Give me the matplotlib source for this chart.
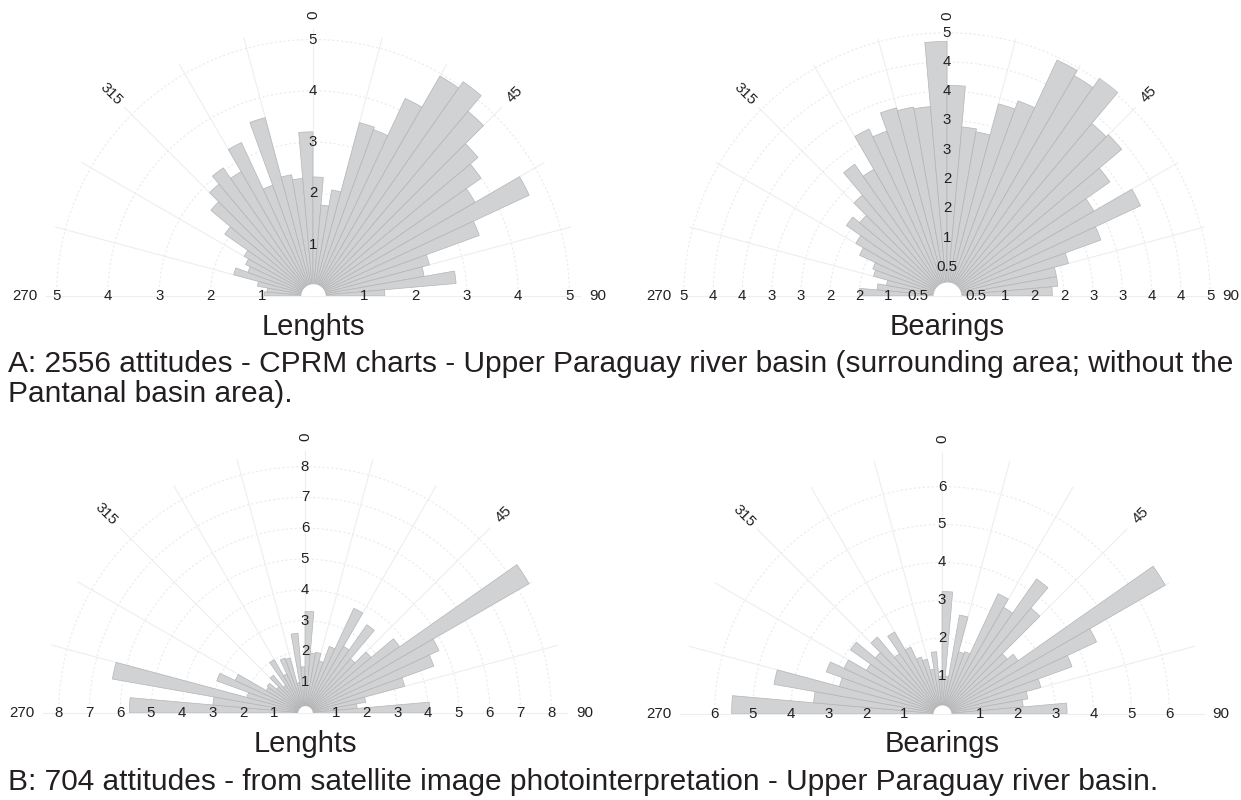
import numpy as np
import matplotlib
matplotlib.use("Agg")
import matplotlib.pyplot as plt

W, H, DPI = 1241, 800, 100

# 5-degree bins from 270 (=-90) through 0 to 90
bin_centers_deg = [-87.5, -82.5, -77.5, -72.5, -67.5, -62.5, -57.5, -52.5, -47.5,
                   -42.5, -37.5, -32.5, -27.5, -22.5, -17.5, -12.5, -7.5, -2.5,
                   2.5, 7.5, 12.5, 17.5, 22.5, 27.5, 32.5, 37.5, 42.5,
                   47.5, 52.5, 57.5, 62.5, 67.5, 72.5, 77.5, 82.5, 87.5]

# A - Lengths (CPRM charts)
a_lengths = [0.95, 0.9, 1.1, 1.6, 1.35, 1.45, 1.55, 2.1, 2.6,
             2.85, 3.05, 2.8, 3.3, 2.3, 3.6, 2.4, 2.3, 3.2,
             2.32, 1.78, 2.1, 3.5, 3.45, 4.25, 4.95, 5.1, 4.7,
             4.2, 4.0, 3.65, 4.65, 3.45, 2.35, 2.2, 2.8, 1.4]
# A - Bearings
a_bearings = [1.5, 1.2, 1.05, 1.3, 1.35, 1.65, 1.8, 2.1, 1.95,
              2.25, 2.75, 2.5, 3.15, 3.0, 3.33, 3.28, 3.25, 4.35,
              3.6, 2.9, 2.85, 3.4, 3.55, 4.45, 4.35, 4.55, 3.85,
              3.9, 3.4, 2.9, 3.65, 2.8, 2.15, 1.9, 1.9, 1.8]
# B - Lengths (satellite photointerpretation)
b_lengths = [5.7, 3.0, 6.35, 1.95, 3.05, 2.5, 1.45, 1.5, 1.2,
             1.6, 1.1, 2.0, 1.4, 1.9, 1.85, 1.0, 2.6, 1.5,
             3.3, 1.95, 2.0, 1.75, 2.3, 3.75, 2.5, 3.5, 2.3,
             2.8, 3.75, 8.4, 4.8, 4.45, 3.35, 2.0, 1.7, 4.05]
# B - Bearings
b_bearings = [5.55, 3.4, 4.5, 2.8, 3.25, 2.85, 2.3, 2.95, 2.3,
              2.65, 1.95, 2.5, 1.95, 1.6, 1.5, 1.2, 1.65, 1.0,
              3.23, 1.0, 2.65, 1.7, 1.75, 3.5, 3.25, 4.35, 3.65,
              2.25, 2.45, 6.8, 4.5, 3.65, 2.7, 2.3, 2.15, 3.3]

a_len_ticks = [1, 2, 3, 4, 5]
a_len_labels = ["1", "2", "3", "4", "5"]
a_bear_ticks = [0.5, 1, 1.5, 2, 2.5, 3, 3.5, 4, 4.5]
a_bear_labels = ["0.5", "1", "2", "2", "3", "3", "4", "4", "5"]
b_len_ticks = [1, 2, 3, 4, 5, 6, 7, 8]
b_len_labels = ["1", "2", "3", "4", "5", "6", "7", "8"]
b_bear_ticks = [1, 2, 3, 4, 5, 6]
b_bear_labels = ["1", "2", "3", "4", "5", "6"]

theta_grid_deg = [-90, -75, -60, -45, -30, -15, 0, 15, 30, 45, 60, 75, 90]
theta_label_deg = [-90, -45, 0, 45, 90]
theta_labels = ["270", "315", "0", "45", "90"]

panel_titles = ["Lenghts", "Bearings", "Lenghts", "Bearings"]
caption_a1 = "A: 2556 attitudes - CPRM charts - Upper Paraguay river basin (surrounding area; without the"
caption_a2 = "Pantanal basin area)."
caption_b = "B: 704 attitudes - from satellite image photointerpretation - Upper Paraguay river basin."

BAR_COLOR = "#d1d2d4"
EDGE_COLOR = "#b4b5b7"
TEXT_COLOR = "#231f20"
FONT = ["Liberation Sans", "DejaVu Sans"]

plt.rcParams["font.family"] = FONT

fig = plt.figure(figsize=(W / DPI, H / DPI), dpi=DPI)
fig.patch.set_facecolor("white")

HOLE = 0.24


def panel(cx, cy, pxu, rmax, values, rticks, rlabels, title, title_base):
    R = rmax * pxu
    ax = fig.add_axes([(cx - R) / W, (H - (cy + R / 2)) / H, 2 * R / W, 2 * R / H],
                      projection="polar")
    ax.set_theta_zero_location("N")
    ax.set_theta_direction(-1)
    ax.set_thetalim(np.deg2rad(-90), np.deg2rad(90))
    ax.set_rlim(0, rmax)
    ax.set_frame_on(False)
    ax.set_axisbelow(True)
    ax.set_xticks(np.deg2rad(theta_grid_deg))
    ax.set_xticklabels([])
    ax.set_yticks(rticks)
    ax.set_yticklabels([])
    ax.tick_params(axis="both", which="both", length=0, width=0)
    ax.xaxis.grid(True, color="#eeeeee", linewidth=0.8, linestyle="-")
    ax.yaxis.grid(True, color="#ebebeb", linewidth=0.8, linestyle=(0, (2, 2)))
    for gl in ax.xaxis.get_gridlines():
        gl.set_clip_on(False)

    ax.bar(np.deg2rad(bin_centers_deg), values, width=np.deg2rad(5),
           color=BAR_COLOR, edgecolor=EDGE_COLOR, linewidth=0.5, zorder=2)
    # white hole at the centre
    th = np.linspace(-np.pi / 2, np.pi / 2, 120)
    ax.fill_between(th, 0, HOLE, color="white", zorder=3, linewidth=0)

    fs = 10.8
    for r, lab in zip(rticks, rlabels):
        for ang in (-90, 90):
            ax.text(np.deg2rad(ang), r, lab, ha="center", va="center",
                    fontsize=fs, color=TEXT_COLOR, zorder=5)
        ax.text(0, r, lab, ha="center", va="center", fontsize=fs,
                color=TEXT_COLOR, zorder=5)

    for ang, lab in zip(theta_label_deg, theta_labels):
        if ang == -90:
            ax.text(np.deg2rad(ang), rmax + 9 / pxu, lab, ha="right", va="center",
                    fontsize=fs, color=TEXT_COLOR)
        elif ang == 90:
            ax.text(np.deg2rad(ang), rmax + 9 / pxu, lab, ha="left", va="center",
                    fontsize=fs, color=TEXT_COLOR)
        elif ang == 0:
            ax.text(0, rmax + 14 / pxu, lab, ha="center", va="center", rotation=90,
                    rotation_mode="anchor", fontsize=fs, color=TEXT_COLOR)
        else:
            ax.text(np.deg2rad(ang), rmax + 19 / pxu, lab, ha="center", va="center",
                    rotation=ang, rotation_mode="anchor", fontsize=fs,
                    color=TEXT_COLOR)

    fig.text(cx / W, 1 - title_base / H, title, ha="center", va="baseline",
             fontsize=21, color=TEXT_COLOR)
    return ax


panel(313, 296, 51.3, 5.2, a_lengths, a_len_ticks, a_len_labels, panel_titles[0], 335)
panel(947, 296, 58.5, 4.55, a_bearings, a_bear_ticks, a_bear_labels, panel_titles[1], 335)
panel(305, 713, 30.8, 8.5, b_lengths, b_len_ticks, b_len_labels, panel_titles[2], 752)
panel(942, 714, 37.9, 6.9, b_bearings, b_bear_ticks, b_bear_labels, panel_titles[3], 752)

fig.text(8 / W, 1 - 372 / H, caption_a1, ha="left", va="baseline", fontsize=21.5,
         color=TEXT_COLOR)
fig.text(8 / W, 1 - 402 / H, caption_a2, ha="left", va="baseline", fontsize=21.5,
         color=TEXT_COLOR)
fig.text(8 / W, 1 - 790 / H, caption_b, ha="left", va="baseline", fontsize=21.5,
         color=TEXT_COLOR)

fig.savefig("out.png", dpi=DPI, facecolor="white")
